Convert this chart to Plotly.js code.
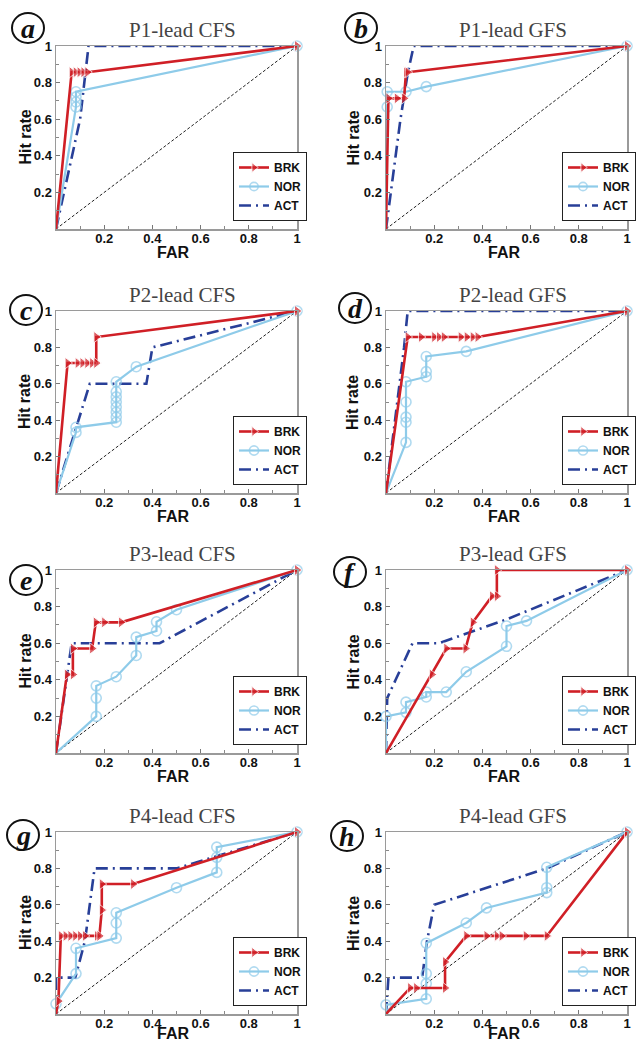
<!DOCTYPE html>
<html>
<head>
<meta charset="utf-8">
<script src="https://cdn.plot.ly/plotly-3.0.1.min.js"></script>
<style>html,body{margin:0;padding:0;background:#fff}#chart{width:638px;height:1044px}</style>
</head>
<body>
<div id="chart"></div>
<script>
// ---------- data ----------
const titles = ['P1-lead CFS','P1-lead GFS','P2-lead CFS','P2-lead GFS','P3-lead CFS','P3-lead GFS','P4-lead CFS','P4-lead GFS'];
const panelLetters = ['a','b','c','d','e','f','g','h'];
const seriesNames = ['BRK','NOR','ACT'];
const xTitle = 'FAR';
const yTitle = 'Hit rate';
const tickVals = [0.2,0.4,0.6,0.8,1];
const tickText = ['0.2','0.4','0.6','0.8','1'];
const diagFar = [0,1];
const diagHit = [0,1];

// panel a
const brkFarA = [0,0.065,0.082,0.098,0.114,0.13,1];
const brkHitA = [0,0.857,0.857,0.857,0.857,0.857,1];
const norFarA = [0,0.083,0.083,0.083,0.083,1];
const norHitA = [0,0.667,0.694,0.722,0.75,1];
const actFarA = [0,0.1,0.135,1];
const actHitA = [0,0.6,1,1];
// panel b
const brkFarB = [0,0.01,0.045,0.075,0.083,0.09,1];
const brkHitB = [0,0.714,0.714,0.714,0.857,0.857,1];
const norFarB = [0,0.005,0.005,0.083,0.167,1];
const norHitB = [0,0.667,0.75,0.75,0.778,1];
const actFarB = [0,0.06,0.09,0.115,1];
const actHitB = [0,0.6,0.85,1,1];
// panel c
const brkFarC = [0,0.048,0.09,0.11,0.13,0.15,0.167,0.167,1];
const brkHitC = [0,0.714,0.714,0.714,0.714,0.714,0.714,0.857,1];
const norFarC = [0,0.083,0.083,0.25,0.25,0.25,0.25,0.25,0.25,0.25,0.25,0.333,1];
const norHitC = [0,0.333,0.361,0.389,0.417,0.444,0.472,0.5,0.528,0.556,0.611,0.694,1];
const actFarC = [0,0.14,0.375,0.4,1];
const actHitC = [0,0.6,0.6,0.8,1];
// panel d
const brkFarD = [0,0.09,0.145,0.2,0.22,0.24,0.31,0.335,0.36,0.38,1];
const brkHitD = [0,0.857,0.857,0.857,0.857,0.857,0.857,0.857,0.857,0.857,1];
const norFarD = [0,0.083,0.083,0.083,0.083,0.083,0.167,0.167,0.167,0.333,1];
const norHitD = [0,0.278,0.389,0.417,0.5,0.611,0.639,0.667,0.75,0.778,1];
const actFarD = [0,0.055,0.075,0.09,1];
const actHitD = [0,0.6,0.8,1,1];
// panel e
const brkFarE = [0,0.045,0.07,0.07,0.15,0.165,0.2,0.27,1];
const brkHitE = [0,0.429,0.429,0.571,0.571,0.714,0.714,0.714,1];
const norFarE = [0,0.167,0.167,0.167,0.25,0.333,0.333,0.417,0.417,0.5,1];
const norHitE = [0,0.2,0.3,0.367,0.417,0.533,0.633,0.667,0.717,0.783,1];
const actFarE = [0,0.045,0.065,0.43,1];
const actHitE = [0,0.43,0.6,0.6,1];
// panel f
const brkFarF = [0,0.19,0.25,0.33,0.36,0.44,0.46,0.46,1];
const brkHitF = [0,0.429,0.571,0.571,0.714,0.857,0.857,1,1];
const norFarF = [0,0,0.083,0.083,0.167,0.167,0.25,0.333,0.5,0.5,0.583,1];
const norHitF = [0,0.2,0.222,0.278,0.306,0.333,0.333,0.444,0.583,0.694,0.722,1];
const actFarF = [0,0.005,0.04,0.11,0.22,0.5,1];
const actHitF = [0,0.3,0.4,0.6,0.6,0.73,1];
// panel g
const brkFarG = [0,0.01,0.02,0.04,0.06,0.08,0.1,0.12,0.17,0.18,0.19,0.19,0.32,1];
const brkHitG = [0,0.071,0.429,0.429,0.429,0.429,0.429,0.429,0.429,0.429,0.571,0.714,0.714,1];
const norFarG = [0,0,0.083,0.083,0.25,0.25,0.25,0.5,0.667,0.667,0.667,1];
const norHitG = [0,0.056,0.222,0.361,0.417,0.5,0.556,0.694,0.778,0.861,0.917,1];
const actFarG = [0,0,0.08,0.12,0.16,0.5,1];
const actHitG = [0,0.2,0.2,0.4,0.8,0.8,1];
// panel h
const brkFarH = [0,0.1,0.125,0.245,0.245,0.333,0.417,0.46,0.48,0.58,0.667,1];
const brkHitH = [0,0.143,0.143,0.143,0.286,0.429,0.429,0.429,0.429,0.429,0.429,1];
const norFarH = [0,0,0.167,0.167,0.167,0.167,0.333,0.417,0.667,0.667,0.667,1];
const norHitH = [0,0.05,0.083,0.167,0.222,0.389,0.5,0.583,0.667,0.694,0.806,1];
const actFarH = [0,0.01,0.15,0.17,0.2,0.667,1];
const actHitH = [0,0.2,0.2,0.4,0.6,0.8,1];

const panelData = [
  [[brkFarA,brkHitA],[norFarA,norHitA],[actFarA,actHitA]],
  [[brkFarB,brkHitB],[norFarB,norHitB],[actFarB,actHitB]],
  [[brkFarC,brkHitC],[norFarC,norHitC],[actFarC,actHitC]],
  [[brkFarD,brkHitD],[norFarD,norHitD],[actFarD,actHitD]],
  [[brkFarE,brkHitE],[norFarE,norHitE],[actFarE,actHitE]],
  [[brkFarF,brkHitF],[norFarF,norHitF],[actFarF,actHitF]],
  [[brkFarG,brkHitG],[norFarG,norHitG],[actFarG,actHitG]],
  [[brkFarH,brkHitH],[norFarH,norHitH],[actFarH,actHitH]]
];

// ---------- layout geometry (px) ----------
const W = 638, H = 1044;
const colPx = [[56,297],[386,627]];
const rowPx = [[46,229],[311,493],[570,753],[832,1014]];
const legendRightPx = [307,636];
const yTitleXPx = [25,353];
const circlePx = [[28,28],[361,28],[26,310],[355,308],[26,580],[350,572],[23,835],[347,836]];

const RED = '#d01f26', LBLUE = '#8ecbe9', DBLUE = '#283f98';
const sansBold = {family:'Liberation Sans, Arial, sans-serif', size:13, color:'#111', weight:'bold'};
const titleFont = {family:'Liberation Sans, Arial, sans-serif', size:16, color:'#111', weight:'bold'};

const traces = [];
const layout = {
  width: W, height: H,
  margin: {l:0,r:0,t:0,b:0},
  paper_bgcolor:'#fff', plot_bgcolor:'#fff',
  showlegend: true,
  annotations: [], shapes: []
};

for (let i = 0; i < 8; i++) {
  const n = i + 1;
  const sfx = n === 1 ? '' : String(n);
  const col = i % 2, row = Math.floor(i / 2);
  const xd = [colPx[col][0] / W, colPx[col][1] / W];
  const yd = [1 - rowPx[row][1] / H, 1 - rowPx[row][0] / H];
  const xa = 'x' + sfx, ya = 'y' + sfx;
  const legName = 'legend' + sfx;
  const [brk, nor, act] = panelData[i];

  traces.push({x: diagFar, y: diagHit, xaxis: xa, yaxis: ya, mode:'lines', showlegend:false, hoverinfo:'skip',
    line:{color:'#222', width:1, dash:'3px,2px'}});
  traces.push({x: act[0], y: act[1], xaxis: xa, yaxis: ya, name: seriesNames[2], legend: legName, legendrank: 3,
    mode:'lines', cliponaxis:false, line:{color:DBLUE, width:2.6, dash:'12px,5px,2px,5px'}});
  traces.push({x: nor[0], y: nor[1], xaxis: xa, yaxis: ya, name: seriesNames[1], legend: legName, legendrank: 2,
    mode:'lines+markers', cliponaxis:false, line:{color:LBLUE, width:2.2},
    marker:{symbol:'circle-open', size: nor[0].map((v,k)=> k===0 ? 0 : 10), color:LBLUE, line:{width:1.6, color:LBLUE}}});
  traces.push({x: brk[0], y: brk[1], xaxis: xa, yaxis: ya, name: seriesNames[0], legend: legName, legendrank: 1,
    mode:'lines+markers', cliponaxis:false, line:{color:RED, width:2.6},
    marker:{symbol:'triangle-right', size: brk[0].map((v,k)=> k===0 ? 0 : 10), color:RED}});

  const axisCommon = {
    range:[0,1], showgrid:false, zeroline:false,
    showline:true, linecolor:'#9a9a9a', linewidth:1.5, mirror:true,
    ticks:'inside', ticklen:4, tickcolor:'#777', tickwidth:1,
    tickvals: tickVals, ticktext: tickText, tickfont: sansBold,
    minor:{dtick:0.1, ticks:'inside', ticklen:3, tickcolor:'#888'}
  };
  layout['xaxis' + sfx] = Object.assign({domain: xd, anchor: ya, ticklabelstandoff: -3}, axisCommon);
  layout['yaxis' + sfx] = Object.assign({domain: yd, anchor: xa}, axisCommon);

  layout[legName] = {
    x: legendRightPx[col] / W, xanchor:'right',
    y: 1 - (rowPx[row][1] - 8) / H, yanchor:'bottom',
    bgcolor:'#fff', bordercolor:'#222', borderwidth:1,
    font:{family:'Liberation Sans, Arial, sans-serif', size:12, color:'#111', weight:'bold'},
    itemwidth:30, tracegroupgap:0
  };
  // axis titles
  const farYPx = Math.min(rowPx[row][1] + 23, H - 11);
  layout.annotations.push({
    xref:'paper', yref:'paper', x:(xd[0]+xd[1])/2 - 3/W, y: 1 - farYPx / H,
    xanchor:'center', yanchor:'middle', showarrow:false, text: xTitle, font: titleFont
  });
  layout.annotations.push({
    xref:'paper', yref:'paper', x: yTitleXPx[col] / W, y: (yd[0]+yd[1])/2,
    xanchor:'center', yanchor:'middle', showarrow:false, textangle:-90, text: yTitle, font: titleFont
  });
  // subplot title
  layout.annotations.push({
    xref:'paper', yref:'paper', x:(xd[0]+xd[1])/2 + 6/W, y: 1 - (rowPx[row][0] - 16) / H,
    xanchor:'center', yanchor:'middle', showarrow:false, text: titles[i],
    font:{family:'Liberation Serif, Times New Roman, serif', size:21, color:'#444'}
  });
  // circled panel letter
  const [cx, cy] = circlePx[i];
  layout.shapes.push({type:'circle', xref:'paper', yref:'paper',
    x0:(cx-16)/W, x1:(cx+16)/W, y0:1-(cy+15)/H, y1:1-(cy-15)/H,
    line:{color:'#111', width:2}, fillcolor:'rgba(0,0,0,0)'});
  layout.annotations.push({
    xref:'paper', yref:'paper', x: cx / W, y: 1 - cy / H, xanchor:'center', yanchor:'middle',
    showarrow:false, text:'<b><i>' + panelLetters[i] + '</i></b>',
    font:{family:'Liberation Serif, Times New Roman, serif', size:28, color:'#111'}
  });
}

Plotly.newPlot('chart', traces, layout, {staticPlot:true, displayModeBar:false});
</script>
</body>
</html>
